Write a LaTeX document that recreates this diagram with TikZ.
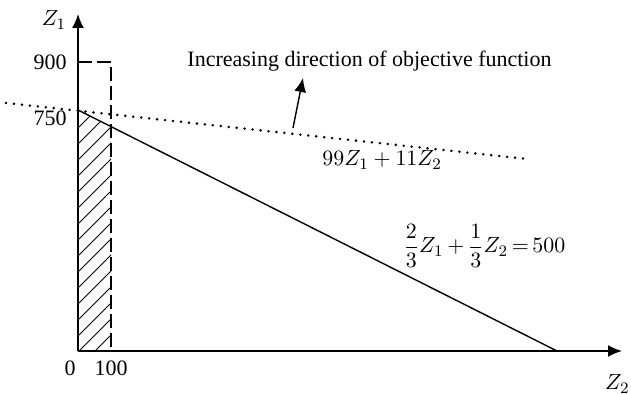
\documentclass[tikz,border=0pt]{standalone}
\usepackage{fontspec}
\setmainfont{Liberation Serif}
\usetikzlibrary{arrows.meta}
\begin{document}
\begin{tikzpicture}[x=0.5pt,y=-0.5pt,
  axis/.style={line width=0.9pt,-{Latex[length=7pt,width=6pt]}},
  lbl/.style={inner sep=0pt,font=\fontsize{11}{13}\selectfont},
  eqn/.style={lbl,execute at begin node={\medmuskip=3mu\thickmuskip=3mu}},
  dashln/.style={line width=1.3pt,dash pattern=on 7pt off 2.5pt},
  dotln/.style={line width=1.4pt,line cap=round,dash pattern=on 0pt off 4pt},
  hatch/.style={line width=0.5pt}]
\useasboundingbox (0,0) rectangle (631,394);
% coordinates
\coordinate (O) at (78,351);
\coordinate (ytip) at (78,14);
\coordinate (xtip) at (622,351);
\coordinate (a900) at (78,62);
\coordinate (c900) at (111,62);
\coordinate (c100) at (111,351);
\coordinate (a750) at (78,110);
\coordinate (xint) at (557,351);
\coordinate (cross) at (111,126.6);
\coordinate (d1) at (6,103);
\coordinate (d2) at (527,159);
\coordinate (arrs) at (293,128);
\coordinate (arre) at (303,78);
% hatching
\begin{scope}
  \clip (O) -- (a750) -- (cross) -- (c100) -- cycle;
  \foreach \k in {0,...,18} {
    \draw[hatch] (95-16*\k,351) -- ++(300,-300);
  }
\end{scope}
% constraint line
\draw[line width=0.7pt] (a750) -- (xint);
% dashed box
\draw[dashln] (a900) -- (c900) -- (c100);
% dotted objective line
\draw[dotln] (d1) -- (d2);
% axes
\draw[axis] (O) -- (ytip);
\draw[axis] (O) -- (xtip);
% direction arrow
\draw[line width=0.7pt,-{Latex[length=7pt,width=6pt]}] (arrs) -- (arre);
% labels
\node[lbl] (lz1) at (54,20) {$Z_1$};
\node[lbl] (l900) at (50,62) {900};
\node[lbl] (l750) at (50,118) {750};
\node[lbl] (l0) at (70,368) {0};
\node[lbl] (l100) at (111,368) {100};
\node[lbl,anchor=east] (lz2) at (630,384) {$Z_2$};
\node[lbl,anchor=base] (ldir) at (369.5,67) {Increasing direction of objective function};
\node[lbl,anchor=base west] (lobj) at (322,166) {$99Z_1+11Z_2$};
\node[eqn,anchor=west] (leq) at (403,246) {$\displaystyle\frac{2}{3}Z_1+\frac{1}{3}Z_2=500$};
\end{tikzpicture}
\end{document}
